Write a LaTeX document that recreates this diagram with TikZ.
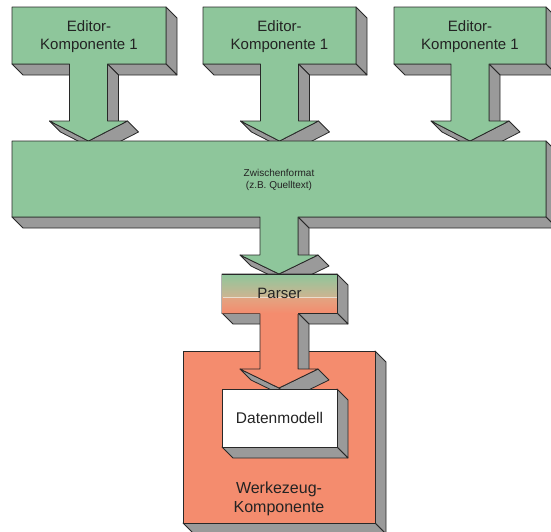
\documentclass[tikz,border=0pt]{standalone}
\usepackage{fontspec}
\setmainfont{Liberation Sans}
\definecolor{boxgreen}{RGB}{142,198,155}
\definecolor{sidegray}{RGB}{154,154,154}
\definecolor{salmon}{RGB}{244,140,110}
\definecolor{tanmid}{RGB}{205,180,145}
\definecolor{tanlow}{RGB}{226,165,130}
\definecolor{edge}{RGB}{40,40,40}
\definecolor{txt}{RGB}{35,35,35}
\tikzset{
  side/.style={fill=sidegray,draw=edge,line width=0.8pt,line join=round},
  greenface/.style={fill=boxgreen,draw=edge,line width=0.8pt,line join=round},
  salmonface/.style={fill=salmon,draw=edge,line width=0.8pt,line join=round},
  whiteface/.style={fill=white,draw=edge,line width=0.8pt,line join=round},
  outline/.style={draw=edge,line width=0.8pt,line join=round},
  bigtext/.style={text=txt,align=center,font=\fontsize{15}{17.5}\selectfont},
  smalltext/.style={text=txt,align=center,font=\fontsize{10}{12}\selectfont},
}
\def\dd{11}
\def\sw{19}
\def\hw{39}
\newcommand{\sface}[4]{\filldraw[side] (#1,#2) -- (#3,#4) -- (#3+\dd,#4+\dd) -- (#1+\dd,#2+\dd) -- cycle;}
% L R T B cx hy tip style
\newcommand{\tshape}[8]{%
  \pgfmathsetmacro\sL{#5-\sw}\pgfmathsetmacro\sR{#5+\sw}%
  \pgfmathsetmacro\hL{#5-\hw}\pgfmathsetmacro\hR{#5+\hw}%
  \sface{#2}{#3}{#2}{#4}%
  \sface{#2}{#4}{\sR}{#4}%
  \sface{\sL}{#4}{#1}{#4}%
  \sface{\sR}{#4}{\sR}{#6}%
  \sface{\hR}{#6}{#5}{#7}%
  \sface{#5}{#7}{\hL}{#6}%
  \filldraw[#8] (#1,#3) -- (#2,#3) -- (#2,#4) -- (\sR,#4) -- (\sR,#6) -- (\hR,#6) -- (#5,#7) -- (\hL,#6) -- (\sL,#6) -- (\sL,#4) -- (#1,#4) -- cycle;%
}
% L R T B style
\newcommand{\plainbox}[5]{%
  \sface{#2}{#3}{#2}{#4}%
  \sface{#2}{#4}{#1}{#4}%
  \filldraw[#5] (#1,#3) rectangle (#2,#4);%
}
\begin{document}
\begin{tikzpicture}[x=1pt,y=-1pt]
\useasboundingbox (0,0) rectangle (551,531);
\clip (0,0) rectangle (551,531);
% editor components
\tshape{12}{166}{7}{64}{88.5}{121}{141}{greenface}
\tshape{203}{356}{7}{64}{279.5}{121}{141}{greenface}
\tshape{394}{546}{7}{64}{470}{121}{141}{greenface}
\node[bigtext] (ed1) at (89,36.5) {Editor-\\Komponente 1};
\node[bigtext] (ed2) at (279.5,36.5) {Editor-\\Komponente 1};
\node[bigtext] (ed3) at (470,36.5) {Editor-\\Komponente 1};
% intermediate format
\tshape{12}{546}{141}{217}{279}{255}{274}{greenface}
\node[smalltext] (zw) at (279,179.5) {Zwischenformat\\(z.B. Quelltext)};
% tool component
\plainbox{183}{375}{351}{523}{salmonface}
\node[bigtext,font=\fontsize{16}{19.5}\selectfont] (wz) at (279,499) {Werkezeug-\\Komponente};
% parser
\tshape{222}{337}{274}{313}{279}{369}{388}{salmonface}
\shade[top color=boxgreen,bottom color=tanmid] (222,274) rectangle (337,297);
\shade[top color=tanlow,bottom color=salmon] (222,297) rectangle (337,313);
\draw[white!55!tanmid,line width=0.7pt] (222.5,297) -- (336.5,297);
\draw[outline] (222,274) -- (337,274) -- (337,313) -- (298,313) (260,313) -- (222,313) -- cycle;
\node[bigtext,anchor=base] (pa) at (279.5,298) {Parser};
% data model
\plainbox{222}{337}{389}{447}{whiteface}
\node[bigtext,anchor=base,font=\fontsize{15.5}{18}\selectfont] (dm) at (279.5,423) {Datenmodell};
\end{tikzpicture}
\end{document}
